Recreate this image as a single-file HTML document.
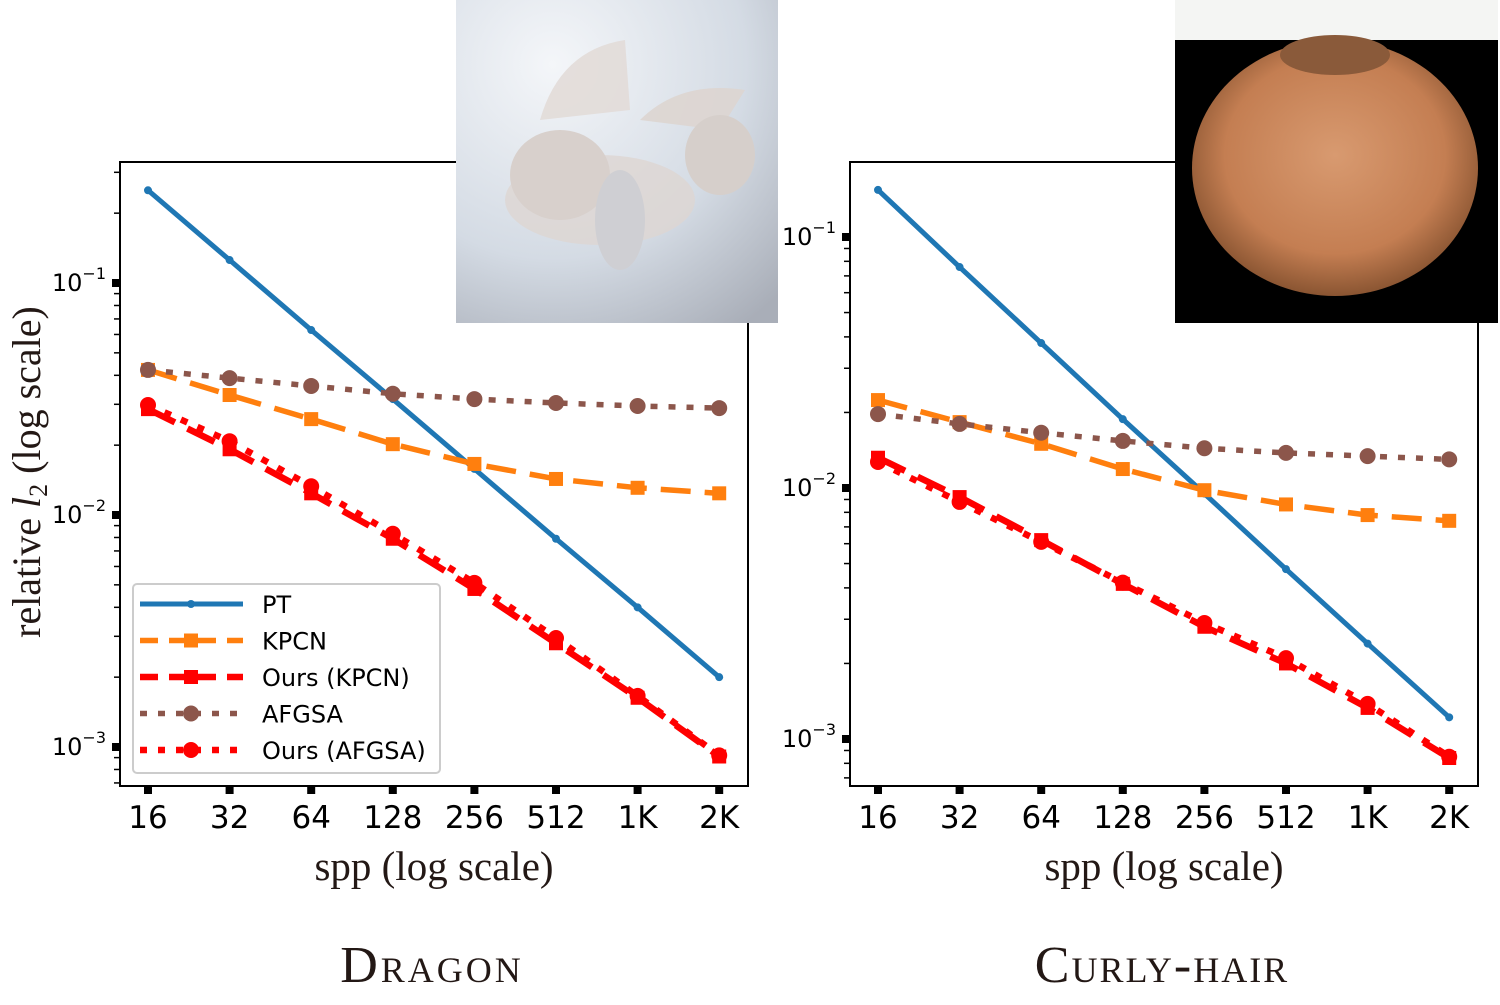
<!DOCTYPE html>
<html><head><meta charset="utf-8"><style>
body{margin:0;background:#fff;}
svg text{font-family:"DejaVu Sans",sans-serif;}
</style></head><body>
<svg id="fig" width="1500" height="1000" viewBox="0 0 1500 1000" xmlns="http://www.w3.org/2000/svg">
<defs>
<radialGradient id="dbg" cx="0.3" cy="0.2" r="1">
<stop offset="0" stop-color="#f4f6f9"/><stop offset="0.6" stop-color="#d4dbe4"/><stop offset="1" stop-color="#a9aeb8"/></radialGradient>
<radialGradient id="hair" cx="0.5" cy="0.45" r="0.55">
<stop offset="0" stop-color="#d89a70"/><stop offset="0.7" stop-color="#c47e52"/><stop offset="1" stop-color="#8a5532"/></radialGradient>
</defs>
<g id="panels"></g>
<g>
<rect x="456" y="0" width="322" height="323" fill="url(#dbg)"/>
<ellipse cx="600" cy="200" rx="95" ry="45" fill="#ddd6d2" opacity="0.8"/>
<path d="M540 120 Q560 50 625 40 L630 110 Z" fill="#e2dcd8" opacity="0.9"/>
<path d="M640 120 Q680 80 745 90 L720 130 Z" fill="#ddd5d0" opacity="0.9"/>
<ellipse cx="560" cy="175" rx="50" ry="45" fill="#d8d0cc"/>
<ellipse cx="620" cy="220" rx="25" ry="50" fill="#cfcfd3"/>
<ellipse cx="720" cy="155" rx="35" ry="40" fill="#d6cfcb"/>
</g>
<g>
<rect x="1175" y="0" width="323" height="40" fill="#f4f5f3"/>
<rect x="1175" y="40" width="323" height="283" fill="#000"/>
<ellipse cx="1335" cy="168" rx="143" ry="128" fill="url(#hair)"/>
<ellipse cx="1335" cy="55" rx="55" ry="20" fill="#8a5a3a"/>
</g>
<text x="432" y="982" text-anchor="middle" style="font-family:'Liberation Serif',serif;font-size:52px;font-variant:small-caps;letter-spacing:3px" fill="#231815">Dragon</text>
<text x="1162" y="982" text-anchor="middle" style="font-family:'Liberation Serif',serif;font-size:52px;font-variant:small-caps;letter-spacing:2px" fill="#231815">Curly-hair</text>
<text transform="translate(40,472) rotate(-90)" text-anchor="middle" style="font-family:'Liberation Serif',serif;font-size:40px" fill="#231815">relative <tspan font-style="italic">l</tspan><tspan font-size="26" dy="7">2</tspan><tspan dy="-7"> (log scale)</tspan></text>
</svg>
<script>
const xLabels = ["16","32","64","128","256","512","1K","2K"];
const seriesNames = ["PT","KPCN","Ours (KPCN)","AFGSA","Ours (AFGSA)"];
const dragonPT = [0.251,0.1256,0.0627,0.0316,0.0158,0.0079,0.0040,0.0020];
const dragonKPCN = [0.0422,0.0329,0.0259,0.0202,0.0166,0.0143,0.0131,0.0124];
const dragonOursKPCN = [0.0286,0.0192,0.0124,0.0079,0.0048,0.0028,0.00163,0.00091];
const dragonAFGSA = [0.0422,0.0389,0.0360,0.0333,0.0316,0.0304,0.0295,0.0289];
const dragonOursAFGSA = [0.0298,0.0208,0.0133,0.0083,0.0051,0.00295,0.00166,0.00092];
const hairPT = [0.154,0.0759,0.0378,0.0188,0.0095,0.00475,0.0024,0.00122];
const hairKPCN = [0.0224,0.0183,0.0150,0.0119,0.0098,0.0086,0.0078,0.0074];
const hairOursKPCN = [0.0132,0.0092,0.0062,0.00415,0.0028,0.0020,0.00133,0.00084];
const hairAFGSA = [0.0197,0.0180,0.0166,0.0154,0.0144,0.0138,0.0134,0.0130];
const hairOursAFGSA = [0.0127,0.0088,0.0061,0.0042,0.0029,0.0021,0.00138,0.00085];
const yTickExps = [-1,-2,-3];

const NS="http://www.w3.org/2000/svg";
const root=document.getElementById('panels');
function mk(tag,attrs,parent){const e=document.createElementNS(NS,tag);for(const k in attrs)e.setAttribute(k,attrs[k]);(parent||root).appendChild(e);return e;}
const styles=[
 {color:"#1f77b4",dash:"",w:5,marker:"dot"},
 {color:"#ff7f0e",dash:"30 14",w:5.5,marker:"square"},
 {color:"#ff0000",dash:"30 14",w:6.5,marker:"square"},
 {color:"#8c564b",dash:"7 11",w:5.5,marker:"circle"},
 {color:"#ff0000",dash:"7 11",w:6.5,marker:"circle"}
];
function drawMarker(g,st,x,y,name){
  let m;
  if(st.marker==="dot"){m=mk('circle',{cx:x,cy:y,r:4,fill:st.color},g);}
  else if(st.marker==="square"){m=mk('rect',{x:x-7,y:y-7,width:14,height:14,fill:st.color},g);}
  else {m=mk('circle',{cx:x,cy:y,r:8,fill:st.color},g);}
  
  
}
function panel(pid,left,right,top,bottom,y1pos,decade,series,legend){
  const g=mk('g',{});
  
  
  const xs=i=>left+28+i*81.6;
  const ys=v=>y1pos-(Math.log10(v)+1)*decade;
  for(let e=-4;e<=0;e++){for(let k=2;k<=9;k++){const y=ys(k*Math.pow(10,e));if(y>top&&y<bottom)mk('line',{x1:left-6,x2:left,y1:y,y2:y,stroke:"#000","stroke-width":1.5},g);}}
  yTickExps.forEach(e=>{const y=ys(Math.pow(10,e));
    const t=mk('rect',{x:left-8,y:y-4,width:8,height:8,fill:"#000"},g);
    
    
    const tx=mk('text',{x:left-14,y:y+8,"text-anchor":"end","font-size":"24",fill:"#000"},g);
    
    
    tx.innerHTML='10<tspan font-size="16" dy="-12">−'+(-e)+'</tspan>';
  });
  xLabels.forEach((l,i)=>{const x=xs(i);
    mk('rect',{x:x-4,y:bottom,width:8,height:8,fill:"#000"},g);
    const t=mk('text',{x:x,y:bottom+42,"text-anchor":"middle","font-size":"31",fill:"#000"},g);
    t.textContent=l;
    
    
  });
  const xt=mk('text',{x:(left+right)/2,y:bottom+94,"text-anchor":"middle",fill:"#231815",style:"font-family:'Liberation Serif',serif;font-size:41px"},g);
  xt.textContent="spp (log scale)";
  
  
  series.forEach((vals,si)=>{const st=styles[si];
    const pts=vals.map((v,i)=>xs(i)+","+ys(v)).join(" ");
    const sg=mk('g',{},g);
    
    
    const pl=mk('polyline',{points:pts,fill:"none",stroke:st.color,"stroke-width":st.w,"stroke-dasharray":st.dash},sg);
    
    
    vals.forEach((v,i)=>drawMarker(sg,st,xs(i),ys(v),'point'));
  });
  mk('rect',{x:left,y:top,width:right-left,height:bottom-top,fill:"none",stroke:"#000","stroke-width":2},g);
  if(legend){
    const lg=mk('g',{},g);
    
    
    mk('rect',{x:133,y:584,width:307,height:189,rx:4,fill:"#fff",stroke:"#ccc","stroke-width":2},lg);
    seriesNames.forEach((n,si)=>{const y=604+si*36.5;const st=styles[si];
      const e=mk('g',{},lg);
      
      
      mk('line',{x1:140,x2:243,y1:y,y2:y,stroke:st.color,"stroke-width":st.w,"stroke-dasharray":st.dash==="30 14"?"18 11":st.dash},e);
      drawMarker(e,st,191,y,'legend-marker');
      const t=mk('text',{x:262,y:y+9,"font-size":"24",fill:"#000"},e);
      t.textContent=n;
    });
  }
}
panel('dragon',120,748,162,786,283,232,[dragonPT,dragonKPCN,dragonOursKPCN,dragonAFGSA,dragonOursAFGSA],true);
panel('curly-hair',850,1478,162,786,237,251,[hairPT,hairKPCN,hairOursKPCN,hairAFGSA,hairOursAFGSA],false);
const fig=document.getElementById('fig');
fig.insertBefore(root,fig.children[1]);
</script>
</body></html>
